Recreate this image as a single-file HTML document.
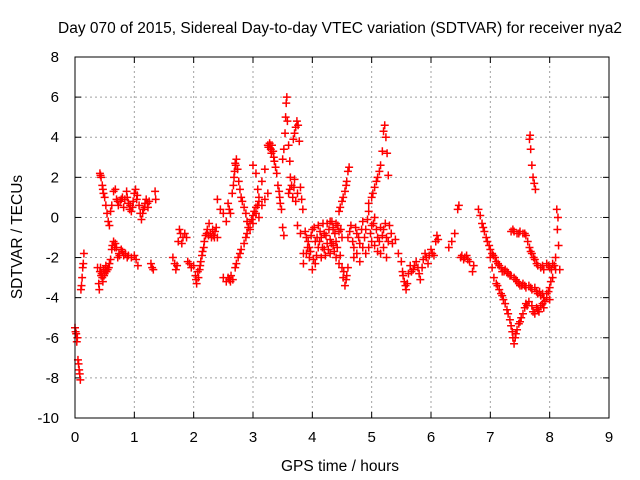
<!DOCTYPE html>
<html><head><meta charset="utf-8"><style>
body{margin:0;background:#fff}
svg{display:block;font-family:"Liberation Sans",sans-serif}
</style></head><body>
<svg id="chart" width="640" height="480" viewBox="0 0 640 480" xmlns="http://www.w3.org/2000/svg">
<text x="340" y="33" font-size="15.5" text-anchor="middle">Day 070 of 2015, Sidereal Day-to-day VTEC variation (SDTVAR) for receiver nya2</text>
<text x="340" y="471" font-size="15.5" text-anchor="middle">GPS time / hours</text>
<text transform="translate(22,237) rotate(-90)" font-size="15.5" text-anchor="middle">SDTVAR / TECUs</text>
<g id="grid"></g>
<g id="ticks"></g>
<g id="marks"></g>
<rect x="75" y="57" width="534" height="361" fill="none" stroke="#000" stroke-width="1"/>
</svg>
<script>
const xTicks=[0,1,2,3,4,5,6,7,8,9];
const yTicks=[-10,-8,-6,-4,-2,0,2,4,6,8];
const track1=[[0,-5.5],[0.01,-5.7],[0.02,-5.8],[0.03,-6.2],[0.04,-6.0],[0.05,-7.1],[0.06,-7.3],[0.07,-7.6],[0.08,-7.8],[0.09,-8.1]];
const track2=[[0.1,-3.6],[0.11,-3.4],[0.12,-3.0],[0.13,-2.5],[0.14,-2.3],[0.15,-1.8]];
const track3=[[0.38,-2.5],[0.4,-3.3],[0.41,-3.6],[0.42,-2.7],[0.44,-2.9],[0.46,-3.0],[0.48,-2.6],[0.5,-2.8],[0.52,-2.4],[0.55,-2.6],[0.58,-2.3],[0.6,-2.1],[0.62,-1.6],[0.65,-1.2],[0.68,-1.3],[0.7,-1.5],[0.72,-2.0],[0.75,-1.9],[0.78,-1.6],[0.8,-1.7],[0.85,-1.8],[0.9,-1.9],[0.95,-2.0],[1.0,-1.9],[1.03,-2.1],[1.06,-2.4],[0.43,-2.5],[0.45,-2.8],[0.47,-3.2],[0.49,-2.9],[0.51,-2.6],[0.53,-2.7],[0.57,-2.5],[0.63,-1.4],[0.67,-1.5],[0.74,-1.8],[0.82,-1.9],[0.88,-2.0]];
const track4=[[0.42,2.2],[0.44,2.0],[0.46,1.6],[0.48,1.2],[0.5,1.0],[0.52,0.6],[0.54,0.2],[0.56,-0.2],[0.58,-0.4],[0.6,0.3],[0.62,0.6],[0.65,1.3],[0.68,1.4],[0.7,0.9],[0.73,0.6],[0.76,0.8],[0.8,1.0],[0.84,0.9],[0.87,1.3],[0.9,0.7],[0.92,0.4],[0.95,0.3],[0.98,0.8],[1.0,1.2],[1.02,1.4],[1.05,1.1],[1.08,0.6],[1.1,0.2],[1.12,-0.1],[1.15,0.4],[1.18,0.7],[1.2,0.9],[1.23,0.5],[1.25,0.8],[1.35,1.3],[1.36,0.9],[0.43,2.1],[0.47,1.4],[0.72,0.8],[0.78,0.9],[0.82,0.5],[0.88,1.0],[0.93,0.6],[0.97,0.5],[1.04,0.9],[1.14,0.2],[1.17,0.5],[1.22,0.7]];
const track5=[[1.28,-2.3],[1.3,-2.5],[1.32,-2.6]];
const track6=[[1.65,-2.0],[1.68,-2.3],[1.7,-2.6],[1.72,-2.4],[1.74,-1.2],[1.76,-0.6],[1.78,-0.8],[1.8,-1.3],[1.82,-1.0],[1.85,-0.8],[1.88,-1.0]];
const track7=[[1.9,-2.2],[1.93,-2.3],[1.96,-2.5],[2.0,-2.4],[2.03,-2.9],[2.05,-3.3],[2.08,-3.0],[2.1,-2.6],[2.12,-2.2],[2.15,-1.7],[2.18,-1.2],[2.2,-0.9],[2.23,-0.6],[2.26,-0.3],[2.28,-0.8],[2.3,-1.0],[2.33,-0.9],[2.36,-0.7],[2.38,-0.5],[2.4,-1.0],[2.04,-3.1],[2.07,-2.7],[2.11,-2.4],[2.14,-1.9],[2.17,-1.5],[2.22,-0.8],[2.25,-0.9],[2.32,-0.6],[2.35,-1.0]];
const track8=[[2.4,0.9],[2.45,0.4],[2.5,0.2],[2.55,-0.2],[2.6,0.4],[2.65,1.2],[2.68,2.0],[2.7,2.7],[2.72,2.9],[2.74,2.4],[2.76,1.8],[2.8,1.0],[2.85,0.5],[2.9,-0.2],[2.95,-0.6],[3.0,-0.3],[3.05,0.2],[3.1,0.0],[2.58,0.7],[2.62,0.2],[2.67,1.6],[2.69,2.3],[2.71,2.6],[2.78,1.4],[2.82,0.8],[2.88,0.2]];
const track9=[[2.5,-3.0],[2.55,-3.2],[2.6,-3.1],[2.63,-2.9],[2.66,-3.1],[2.7,-2.5],[2.75,-2.0],[2.8,-1.6],[2.85,-1.3],[2.9,-0.8],[2.95,-0.3],[3.0,0.1],[3.05,0.5],[3.1,0.8],[3.15,0.6],[3.2,0.9],[3.25,1.2],[2.58,-3.0],[2.62,-3.2],[2.72,-2.3],[2.78,-1.8],[2.88,-1.0],[2.92,-0.5],[2.98,-0.1],[3.02,0.3],[3.08,0.6]];
const track10=[[3.0,2.6],[3.05,2.2],[3.08,1.4],[3.1,1.0],[3.15,1.8],[3.2,2.4],[3.25,3.6],[3.28,3.7],[3.3,3.4],[3.32,3.6],[3.35,3.0],[3.38,2.5],[3.4,2.2],[3.42,1.6],[3.45,1.0],[3.48,0.4],[3.5,-0.5],[3.52,-0.9],[3.26,3.5],[3.29,3.6],[3.31,3.2],[3.34,3.3],[3.36,2.8],[3.44,1.3],[3.46,0.7]];
const track11=[[3.5,2.9],[3.52,3.4],[3.54,4.2],[3.55,5.0],[3.56,5.7],[3.57,6.0],[3.58,4.8],[3.6,3.6],[3.62,2.8],[3.63,2.0],[3.6,1.2],[3.65,1.6],[3.7,1.9],[3.72,0.8],[3.75,1.2],[3.62,1.4],[3.67,1.0],[3.69,1.5]];
const track12=[[3.68,3.9],[3.7,4.2],[3.72,4.5],[3.74,4.8],[3.76,4.6],[3.78,3.8],[3.8,1.5],[3.82,0.9],[3.84,0.4],[3.75,-0.4],[3.8,-0.8],[3.85,-1.8],[3.9,-1.0],[3.95,-1.5],[4.0,-0.6],[4.05,-1.2],[4.1,-0.4],[4.15,-1.0],[4.2,-0.8],[4.25,-0.3],[4.3,-1.1],[4.35,-0.5],[4.4,-1.2],[4.45,-0.7],[4.5,-1.0],[3.88,-0.7],[3.93,-1.2],[3.98,-0.9],[4.03,-0.5],[4.08,-1.0],[4.13,-0.7],[4.18,-0.3],[4.23,-0.9],[4.28,-0.6],[4.33,-0.2],[4.38,-0.8],[4.43,-0.4],[4.48,-0.6]];
const track13=[[3.85,-2.3],[3.9,-1.8],[3.95,-2.0],[4.0,-2.6],[4.05,-2.3],[4.1,-1.5],[4.15,-2.0],[4.2,-1.6],[4.25,-1.3],[4.3,-1.8],[4.35,-1.4],[4.4,-2.0],[4.45,-2.3],[4.5,-2.5],[4.52,-3.0],[4.55,-3.4],[4.58,-2.9],[4.6,-2.5],[3.92,-1.5],[3.97,-1.7],[4.02,-2.1],[4.07,-1.9],[4.12,-1.2],[4.17,-1.5],[4.22,-1.9],[4.27,-1.6],[4.32,-1.3],[4.37,-1.7],[4.42,-1.5],[4.47,-1.9],[4.53,-2.7],[4.57,-3.1]];
const track14=[[4.3,-0.2],[4.35,-0.6],[4.4,-0.3],[4.45,0.3],[4.5,0.8],[4.55,1.3],[4.58,1.8],[4.6,2.3],[4.62,2.5],[4.47,0.5],[4.52,1.0],[4.57,1.6]];
const track15=[[4.6,-1.0],[4.65,-0.4],[4.7,-1.5],[4.75,-0.8],[4.8,-1.3],[4.85,-0.2],[4.9,-0.6],[4.95,0.3],[5.0,-0.4],[5.05,0.0],[5.1,-1.0],[5.15,-0.5],[5.2,-1.5],[5.25,-1.0],[5.3,-0.4],[5.35,-1.3],[5.4,-1.1],[4.7,-2.0],[4.8,-2.2],[4.9,-1.8],[5.0,-1.2],[5.1,-1.7],[5.2,-0.6],[5.25,-2.0],[4.63,-0.7],[4.68,-1.2],[4.73,-0.5],[4.78,-1.0],[4.83,-0.6],[4.88,-1.0],[4.93,-0.1],[4.98,-0.8],[5.03,-0.3],[5.08,-0.6],[5.13,-1.2],[5.18,-0.9],[5.23,-0.3],[5.28,-1.2],[5.33,-0.8],[4.75,-1.8],[4.85,-1.5],[4.95,-1.5],[5.05,-1.4],[5.15,-1.8]];
const track16=[[4.95,0.7],[5.0,1.0],[5.05,1.5],[5.1,2.0],[5.15,2.6],[5.18,3.3],[5.2,4.3],[5.22,4.6],[5.24,4.0],[5.26,3.2],[5.28,2.1],[5.02,1.2],[5.08,1.8],[5.13,2.3]];
const track17=[[5.45,-1.8],[5.5,-2.2],[5.52,-2.7],[5.55,-3.2],[5.58,-3.6],[5.6,-3.3],[5.62,-2.8],[5.65,-2.4],[5.7,-2.6],[5.75,-2.2],[5.8,-2.8],[5.82,-3.1],[5.85,-2.5],[5.9,-1.8],[5.95,-2.3],[6.0,-1.6],[6.05,-1.9],[6.08,-1.2],[6.1,-0.9],[6.12,-1.1],[5.53,-2.9],[5.57,-3.4],[5.67,-2.7],[5.72,-2.4],[5.78,-2.5],[5.87,-2.1],[5.92,-2.0],[5.97,-1.9],[6.02,-1.8]];
const track18=[[6.3,-1.5],[6.35,-1.2],[6.4,-0.8],[6.45,0.4],[6.47,0.6],[6.5,-2.0],[6.55,-2.1],[6.6,-1.9],[6.65,-2.2],[6.7,-2.7],[6.72,-2.4],[6.52,-1.9],[6.57,-2.0],[6.62,-2.1]];
const track19=[[6.8,0.4],[6.83,0.1],[6.86,-0.3],[6.9,-0.7],[6.95,-1.2],[7.0,-1.6],[7.05,-1.9],[7.1,-2.2],[7.15,-2.4],[7.2,-2.7],[7.25,-2.6],[7.3,-2.8],[7.35,-2.9],[7.4,-3.0],[7.45,-3.2],[7.5,-3.4],[7.55,-3.3],[7.6,-3.5],[7.65,-3.4],[7.7,-3.6],[7.75,-3.5],[7.8,-3.8],[7.85,-3.9],[7.9,-4.0],[7.95,-3.8],[8.0,-4.1],[6.88,-0.5],[6.93,-1.0],[6.98,-1.4],[7.03,-1.8],[7.08,-2.0],[7.13,-2.3],[7.18,-2.5],[7.23,-2.7],[7.28,-2.7],[7.33,-2.9],[7.43,-3.1],[7.48,-3.3],[7.53,-3.4],[7.58,-3.4],[7.68,-3.5],[7.78,-3.7],[7.83,-3.7],[7.88,-3.8]];
const track20=[[7.0,-2.0],[7.03,-2.5],[7.06,-3.0],[7.1,-3.3],[7.15,-3.6],[7.2,-3.9],[7.25,-4.3],[7.3,-4.8],[7.35,-5.4],[7.38,-6.0],[7.4,-6.3],[7.42,-6.0],[7.45,-5.6],[7.5,-5.2],[7.55,-4.8],[7.6,-4.3],[7.65,-4.2],[7.7,-4.4],[7.75,-4.8],[7.8,-4.6],[7.85,-4.4],[7.9,-4.5],[7.95,-4.0],[8.0,-3.5],[8.05,-3.0],[8.08,-2.4],[8.1,-2.0],[7.12,-3.4],[7.18,-3.8],[7.22,-4.1],[7.28,-4.6],[7.33,-5.1],[7.37,-5.7],[7.43,-5.8],[7.48,-5.3],[7.52,-5.0],[7.58,-4.5],[7.62,-4.4],[7.72,-4.7],[7.78,-4.5],[7.82,-4.7],[7.88,-4.3],[7.92,-4.2],[7.98,-3.7],[8.02,-3.2]];
const track21=[[7.35,-0.7],[7.4,-0.7],[7.45,-0.8],[7.5,-0.7],[7.55,-0.8],[7.6,-0.9],[7.63,-1.2],[7.66,-1.5],[7.7,-1.8],[7.75,-2.1],[7.8,-2.4],[7.85,-2.5],[7.9,-2.6],[7.95,-2.3],[8.0,-2.5],[8.05,-2.3],[8.1,-2.6],[7.38,-0.6],[7.48,-0.8],[7.58,-0.8],[7.68,-1.7],[7.73,-2.0],[7.78,-2.3],[7.88,-2.4],[7.98,-2.4],[8.03,-2.6]];
const track22=[[7.66,3.9],[7.67,4.1],[7.68,3.4],[7.7,2.6],[7.72,2.0],[7.74,1.7],[7.76,1.4]];
const track23=[[8.12,0.4],[8.14,0.0],[8.13,-0.6],[8.15,-1.4],[8.17,-2.6]];
const tracks=[track1,track2,track3,track4,track5,track6,track7,track8,track9,track10,track11,track12,track13,track14,track15,track16,track17,track18,track19,track20,track21,track22,track23];

const X0=75,X1=609,Y0=418,Y1=57;
const xs=t=>X0+(t-0)/(9-0)*(X1-X0);
const ys=v=>Y0-(v+10)/(18)*(Y0-Y1);
const NS="http://www.w3.org/2000/svg";
const grid=document.getElementById('grid'),ticks=document.getElementById('ticks'),marks=document.getElementById('marks');
function mk(tag,attrs,parent){const e=document.createElementNS(NS,tag);for(const k in attrs)e.setAttribute(k,attrs[k]);parent.appendChild(e);return e;}
xTicks.forEach(t=>{
  const x=xs(t);
  if(t>0&&t<9){const g=mk('line',{x1:x,y1:Y0,x2:x,y2:Y1,stroke:'#a0a0a0','stroke-dasharray':'2,3'},grid);
  
  }
  mk('line',{x1:x,y1:Y0,x2:x,y2:Y0-6,stroke:'#000'},ticks);
  mk('line',{x1:x,y1:Y1,x2:x,y2:Y1+6,stroke:'#000'},ticks);
  const l=mk('text',{x:x,y:Y0+24,'font-size':15,'text-anchor':'middle'},ticks);l.textContent=t;
  
  
});
yTicks.forEach(v=>{
  const y=ys(v);
  if(v>-10&&v<8){const g=mk('line',{x1:X0,y1:y,x2:X1,y2:y,stroke:'#a0a0a0','stroke-dasharray':'2,3'},grid);
  
  }
  mk('line',{x1:X0,y1:y,x2:X0+6,y2:y,stroke:'#000'},ticks);
  mk('line',{x1:X1,y1:y,x2:X1-6,y2:y,stroke:'#000'},ticks);
  const l=mk('text',{x:X0-16,y:y+5,'font-size':15,'text-anchor':'end'},ticks);l.textContent=v;
  
  
});
let d='';
tracks.forEach(tr=>tr.forEach(([t,v])=>{const x=xs(t),y=ys(v);d+=`M${x-4},${y}h8M${x},${y-4}v8`;}));
const p=mk('path',{d:d,stroke:'#ff0000','stroke-width':1.5,fill:'none'},marks);


</script>
</body></html>
